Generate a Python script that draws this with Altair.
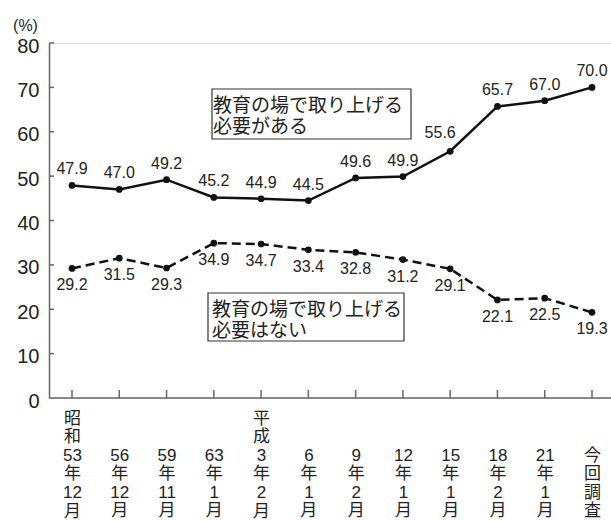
import altair as alt
import pandas as pd

# ---- data ----
periods = [
    "昭|和|53|年|12|月", "56|年|12|月", "59|年|11|月", "63|年|1|月",
    "平|成|3|年|2|月", "6|年|1|月", "9|年|2|月", "12|年|1|月",
    "15|年|1|月", "18|年|2|月", "21|年|1|月", "今|回|調|査",
]
need = [47.9, 47.0, 49.2, 45.2, 44.9, 44.5, 49.6, 49.9, 55.6, 65.7, 67.0, 70.0]
no_need = [29.2, 31.5, 29.3, 34.9, 34.7, 33.4, 32.8, 31.2, 29.1, 22.1, 22.5, 19.3]
y_ticks = [0, 10, 20, 30, 40, 50, 60, 70, 80]
box1_lines = ["教育の場で取り上げる", "必要がある"]
box2_lines = ["教育の場で取り上げる", "必要はない"]

df_need = pd.DataFrame({"period": periods, "value": need})
df_no = pd.DataFrame({"period": periods, "value": no_need})
df_ticks = pd.DataFrame({"value": y_ticks[1:]})
df_xt = pd.DataFrame({"period": periods})
df_one = pd.DataFrame({"k": [0]})

LAT = "Liberation Sans, Arial, Noto Sans CJK JP"
JP = "Noto Sans CJK JP"
W, H = 562, 355
LH = 18.6
PAD = 12

x_enc = alt.X(
    "period:N", sort=periods, title=None,
    scale=alt.Scale(type="point", range=[23, 543], padding=0),
    axis=alt.Axis(domain=False, ticks=False, labelAngle=0,
                  labelExpr="split(datum.label, '|')",
                  labelAlign="center", labelBaseline="top",
                  labelPadding=alt.condition("length(split(datum.value, '|')) >= 6",
                                             alt.value(PAD), alt.value(PAD + 2 * LH)),
                  labelLineHeight=LH, labelFontSize=17, labelFont=LAT,
                  labelColor="#222", labelOverlap=False, grid=False),
)
y_scale = alt.Scale(domain=[0, 80], nice=False, zero=True)
y_enc = alt.Y(
    "value:Q", scale=y_scale, title="(%)",
    axis=alt.Axis(values=y_ticks, ticks=False, labelPadding=10, labelFontSize=20,
                  labelFont=LAT, labelColor="#222", labelOffset=3,
                  domainColor="#666", domainWidth=1.5, grid=False,
                  titleAngle=0, titleX=-24, titleY=-18, titleAlign="center",
                  titleBaseline="middle", titleFontSize=16, titleFontWeight="normal",
                  titleFont=LAT, titleColor="#222"),
)

base_need = alt.Chart(df_need)
base_no = alt.Chart(df_no)

line_need = base_need.mark_line(color="#111", strokeWidth=2.5).encode(x=x_enc, y=y_enc)
pts_need = base_need.mark_point(filled=True, color="#111", size=45, opacity=1).encode(x=x_enc, y=y_enc)
line_no = base_no.mark_line(color="#111", strokeWidth=2.5, strokeDash=[9, 5]).encode(x=x_enc, y=y_enc)
pts_no = base_no.mark_point(filled=True, color="#111", size=45, opacity=1).encode(x=x_enc, y=y_enc)

lab_need = base_need.transform_filter("datum.value != 55.6").mark_text(
    font=LAT, fontSize=16, color="#222", baseline="middle", dy=-16
).encode(x=x_enc, y=y_enc, text=alt.Text("value:Q", format=".1f"))
lab_need2 = base_need.transform_filter("datum.value == 55.6").mark_text(
    font=LAT, fontSize=16, color="#222", baseline="middle", dy=-18, dx=-10
).encode(x=x_enc, y=y_enc, text=alt.Text("value:Q", format=".1f"))
lab_no = base_no.mark_text(
    font=LAT, fontSize=16, color="#222", baseline="middle", dy=17
).encode(x=x_enc, y=y_enc, text=alt.Text("value:Q", format=".1f"))

yticks = alt.Chart(df_ticks).mark_rule(color="#666", strokeWidth=1.5).encode(
    y=y_enc, x=alt.value(0), x2=alt.value(5))
xticks = alt.Chart(df_xt).mark_rule(color="#666", strokeWidth=1.5).encode(
    x=x_enc, y=alt.value(H), y2=alt.value(H - 8))
xaxis_line = alt.Chart(df_one).mark_rule(color="#666", strokeWidth=1.5).encode(
    x=alt.value(0), x2=alt.value(W), y=alt.value(H))

box1 = alt.Chart(df_one).mark_rect(fill="white", stroke="#333", strokeWidth=1.2).encode(
    x=alt.value(163), x2=alt.value(362), y=alt.value(46), y2=alt.value(96))
box2 = alt.Chart(df_one).mark_rect(fill="white", stroke="#333", strokeWidth=1.2).encode(
    x=alt.value(159), x2=alt.value(355), y=alt.value(250), y2=alt.value(298))
txt1 = alt.Chart(df_one).mark_text(
    font=JP, fontSize=19, color="#222", align="left", baseline="middle", lineHeight=21,
    text=box1_lines).encode(x=alt.value(164), y=alt.value(63))
txt2 = alt.Chart(df_one).mark_text(
    font=JP, fontSize=19, color="#222", align="left", baseline="middle", lineHeight=21,
    text=box2_lines).encode(x=alt.value(163), y=alt.value(267))

chart = alt.layer(
    box1, box2, txt1, txt2, xaxis_line, xticks, yticks,
    line_need, line_no, pts_need, pts_no, lab_need, lab_need2, lab_no,
).properties(
    width=W, height=H,
    autosize=alt.AutoSizeParams(type="none"),
    padding={"left": 49, "top": 43, "right": 0, "bottom": 123},
).configure_view(stroke=None).configure(background="white")

chart.save("out.html", embed_options={"renderer": "svg", "actions": False})
